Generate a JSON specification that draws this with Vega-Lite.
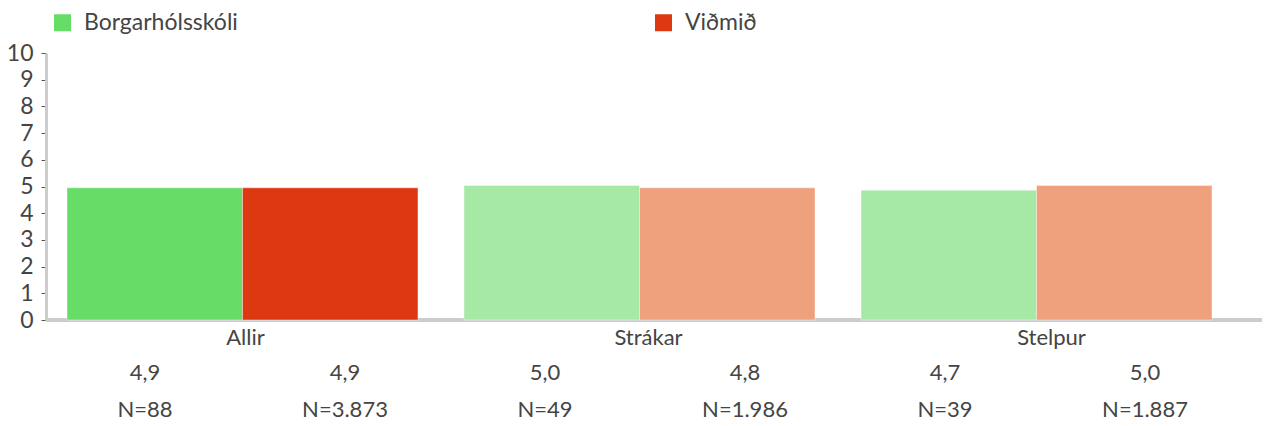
{
  "$schema": "https://vega.github.io/schema/vega-lite/v6.json",
  "width": 1216,
  "height": 267,
  "autosize": "none",
  "padding": {"left": 46, "top": 53, "right": 9, "bottom": 106},
  "background": "white",
  "config": {
    "view": {"stroke": null},
    "font": "Lato",
    "axis": {"labelFont": "Lato", "labelColor": "#444", "grid": false}
  },
  "data": {
    "values": [
      {"group": "Allir", "series": "Borgarhólsskóli", "value": 4.95, "cell": "4,9|N=88"},
      {"group": "Allir", "series": "Viðmið", "value": 4.95, "cell": "4,9|N=3.873"},
      {"group": "Strákar", "series": "Borgarhólsskóli", "value": 5.04, "cell": "5,0|N=49"},
      {"group": "Strákar", "series": "Viðmið", "value": 4.95, "cell": "4,8|N=1.986"},
      {"group": "Stelpur", "series": "Borgarhólsskóli", "value": 4.86, "cell": "4,7|N=39"},
      {"group": "Stelpur", "series": "Viðmið", "value": 5.04, "cell": "5,0|N=1.887"}
    ]
  },
  "layer": [
    {
      "mark": {"type": "rule", "color": "#cccccc", "strokeWidth": 3},
      "encoding": {
        "y": {
          "datum": 0, "type": "quantitative", "scale": {"domain": [0, 10], "nice": false},
          "axis": {
            "title": null, "values": [0, 1, 2, 3, 4, 5, 6, 7, 8, 9, 10],
            "labelOverlap": false, "labelFontSize": 23, "labelPadding": 8,
            "tickSize": 5, "tickColor": "#555",
            "domainColor": "#cccccc", "domainWidth": 3
          }
        }
      }
    },
    {
      "mark": {"type": "bar", "stroke": "white", "strokeOpacity": 0.4, "strokeWidth": 1},
      "encoding": {
        "x": {
          "field": "group", "type": "nominal", "sort": null,
          "scale": {"range": [21, 1166], "paddingInner": 0.116, "paddingOuter": 0},
          "axis": null
        },
        "xOffset": {
          "field": "series", "type": "nominal", "sort": ["Borgarhólsskóli", "Viðmið"],
          "scale": {"paddingInner": 0, "paddingOuter": 0}
        },
        "y": {
          "field": "value", "type": "quantitative",
          "scale": {"domain": [0, 10], "nice": false},
          "axis": {
            "title": null, "values": [0, 1, 2, 3, 4, 5, 6, 7, 8, 9, 10],
            "labelOverlap": false, "labelFontSize": 23, "labelPadding": 8,
            "tickSize": 5, "tickColor": "#555",
            "domainColor": "#cccccc", "domainWidth": 3
          }
        },
        "color": {
          "field": "series", "type": "nominal",
          "scale": {"domain": ["Borgarhólsskóli", "Viðmið"], "range": ["#66dd66", "#dc3912"]},
          "legend": {
            "title": null, "orient": "none", "legendX": 5, "legendY": -42,
            "direction": "horizontal", "columns": 2, "symbolType": "square",
            "symbolSize": 289, "symbolStrokeWidth": 0, "labelFontSize": 23,
            "labelFont": "Lato", "labelColor": "#444", "labelOffset": 10,
            "columnPadding": 414, "padding": 0
          },
          "condition": [
            {"test": "datum.group !== 'Allir' && datum.series === 'Borgarhólsskóli'", "value": "#a5e9a5"},
            {"test": "datum.group !== 'Allir' && datum.series === 'Viðmið'", "value": "#eea17c"}
          ]
        }
      }
    },
    {
      "mark": {"type": "bar", "opacity": 0},
      "encoding": {
        "x": {
          "field": "group", "type": "nominal", "sort": null,
          "scale": {"range": [-2, 1207], "paddingInner": 0, "paddingOuter": 0},
          "axis": {
            "orient": "bottom", "title": null, "domain": false, "ticks": false, "tickSize": 0,
            "labelAngle": 0, "labelFontSize": 22, "labelPadding": 7
          }
        }
      }
    },
    {
      "mark": {"type": "bar", "opacity": 0},
      "encoding": {
        "x": {
          "field": "cell", "type": "nominal", "sort": null,
          "scale": {"range": [-1, 1199], "paddingInner": 0, "paddingOuter": 0},
          "axis": {
            "orient": "bottom", "offset": 34, "title": null, "domain": false, "ticks": false, "tickSize": 0,
            "labelAngle": 0, "labelFontSize": 22, "labelPadding": 8, "labelLineHeight": 37,
            "labelExpr": "split(datum.value, '|')"
          }
        }
      }
    }
  ],
  "resolve": {"scale": {"x": "independent"}, "axis": {"x": "independent"}}
}
